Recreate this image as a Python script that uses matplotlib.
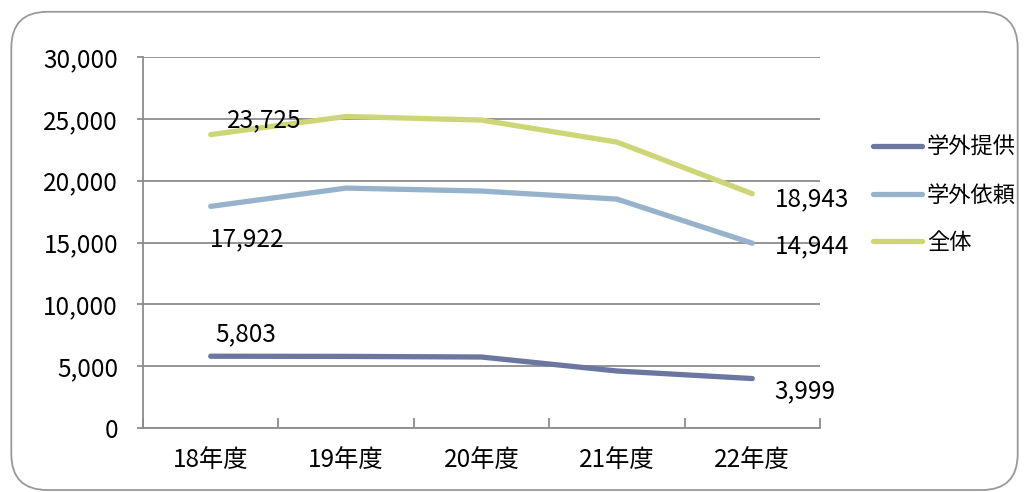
import matplotlib
matplotlib.use("Agg")
from matplotlib import pyplot as plt
from matplotlib.patches import FancyBboxPatch
from matplotlib.ticker import FuncFormatter

plt.rcParams["font.family"] = ["Noto Sans CJK JP", "DejaVu Sans"]

years = ["18年度", "19年度", "20年度", "21年度", "22年度"]
provide = [5803, 5790, 5740, 4610, 3999]      # 学外提供
request = [17922, 19400, 19160, 18510, 14944]  # 学外依頼
total = [23725, 25190, 24900, 23120, 18943]    # 全体

series = [
    ("学外提供", provide, "#6b77a0"),
    ("学外依頼", request, "#97b3cb"),
    ("全体", total, "#cdd676"),
]

fig = plt.figure(figsize=(10.29, 4.92), dpi=100)
fig.patches.append(FancyBboxPatch(
    (0.011, 0.004), 0.978, 0.972, boxstyle="round,pad=0,rounding_size=0.035",
    transform=fig.transFigure, facecolor="none", edgecolor="#999999", linewidth=1.3,
    mutation_aspect=1029 / 492, zorder=-1))

ax = fig.add_axes([143 / 1029, 1 - 428 / 492, (820 - 143) / 1029, (428 - 57) / 492])
ax.set_facecolor("none")

x = range(len(years))
for name, vals, color in series:
    ax.plot(x, vals, color=color, lw=3.8, solid_capstyle="round", label=name, zorder=3)

fs = 17.5
ax.set_xlim(-0.5, len(years) - 0.5)
ax.set_ylim(0, 30000)
ax.set_yticks(range(0, 30001, 5000))
ax.yaxis.set_major_formatter(FuncFormatter(lambda v, p: f"{int(v):,}"))
ax.grid(axis="y", color="#8c8c8c", lw=1.3, zorder=1)
ax.set_xticks([i + 0.5 for i in range(-1, len(years))], minor=False)
ax.set_xticklabels([])
ax.set_xticks(list(x), minor=True)
ax.set_xticklabels(years, minor=True)
ax.tick_params(axis="x", which="major", direction="in", length=7, color="#8c8c8c", width=1.3)
ax.tick_params(axis="x", which="minor", length=0, pad=14, labelsize=fs)
ax.tick_params(axis="y", direction="out", length=4, color="#8c8c8c", width=1.3, labelsize=fs, pad=14)
for s in ["top", "right"]:
    ax.spines[s].set_visible(False)
for s in ["left", "bottom"]:
    ax.spines[s].set_color("#8c8c8c")
    ax.spines[s].set_linewidth(1.3)

lab = dict(fontsize=fs, zorder=4)
ax.annotate(f"{total[0]:,}", (0, total[0]), xytext=(12, 10), textcoords="offset points", ha="left", va="center", **lab)
ax.annotate(f"{request[0]:,}", (0, request[0]), xytext=(26, -24), textcoords="offset points", ha="center", va="center", **lab)
ax.annotate(f"{provide[0]:,}", (0, provide[0]), xytext=(25, 16), textcoords="offset points", ha="center", va="center", **lab)
ax.annotate(f"{total[-1]:,}", (4, total[-1]), xytext=(16, -4), textcoords="offset points", ha="left", va="center", **lab)
ax.annotate(f"{request[-1]:,}", (4, request[-1]), xytext=(16, -2), textcoords="offset points", ha="left", va="center", **lab)
ax.annotate(f"{provide[-1]:,}", (4, provide[-1]), xytext=(16, -9), textcoords="offset points", ha="left", va="center", **lab)

fig.legend(loc="upper left", bbox_to_anchor=(853 / 1029, 1 - 116 / 492), frameon=False,
           fontsize=16, handlelength=2.2, handletextpad=0.22, labelspacing=1.1)

fig.savefig("out.png", dpi=100)
